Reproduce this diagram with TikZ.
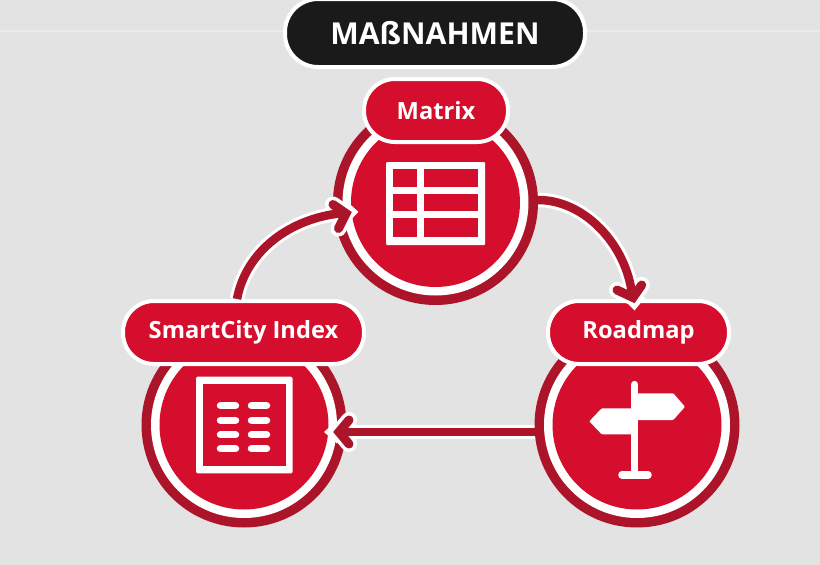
\documentclass[tikz,border=0pt]{standalone}
\usepackage{fontspec}
\setmainfont{Open Sans}
\definecolor{bgc}{HTML}{E3E3E3}
\definecolor{linec}{HTML}{EBEBEB}
\definecolor{redc}{HTML}{D40E2C}
\definecolor{darkc}{HTML}{AC1529}
\definecolor{blackc}{HTML}{1A1A1A}
\tikzset{
  x=1pt,y=-1pt,
  ringnode/.style={circle,minimum size=205pt,inner sep=0pt,fill=darkc,draw=none},
  discA/.style={circle,fill=white,minimum size=186pt,inner sep=0pt},
  discB/.style={circle,fill=redc,minimum size=169pt,inner sep=0pt},
  pill/.style={rounded corners=31pt,fill=redc,draw=white,line width=4pt,text=white,font=\bfseries\fontsize{23.7}{26}\selectfont,inner sep=0pt,minimum height=63pt},
  headpill/.style={rounded corners=33pt,fill=blackc,draw=white,line width=4pt,text=white,font=\bfseries\fontsize{30.2}{32}\selectfont,inner sep=0pt,minimum height=68pt,minimum width=300pt},
  casing/.style={draw=white,line width=14.5pt},
  flow/.style={draw=darkc,line width=8.5pt},
  headcase/.style={draw=white,line width=16pt,line cap=round,line join=miter},
  headflow/.style={draw=darkc,line width=9pt,line cap=round,line join=miter},
  iconw/.style={fill=white,draw=none},
  iconr/.style={fill=redc,draw=none},
  bar/.style={draw=white,line width=7.5pt,line cap=round},
}
\begin{document}
\begin{tikzpicture}
\useasboundingbox (0,0) rectangle (820,565);
\fill[bgc] (0,0) rectangle (820,565);
\draw[linec,line width=1.5pt] (0,31) -- (820,31);

\coordinate (a1s) at (237,299);
\coordinate (a1e) at (343,213);
\coordinate (a1t) at (346,213.5);
\coordinate (a1u) at (333,204.5);
\coordinate (a1d) at (338.5,228.5);
\coordinate (a2s) at (538,200);
\coordinate (a2e) at (632,294);
\coordinate (a2t) at (633,297.5);
\coordinate (a2u) at (617,290);
\coordinate (a2d) at (641.7,285);
\coordinate (a3s) at (536,432);
\coordinate (a3e) at (342,432);
\coordinate (a3t) at (339,432);
\coordinate (a3u) at (349,420);
\coordinate (a3d) at (349,444);

% connector casings under discs
\path[casing] (a1s) .. controls (246,251) and (290,218) .. (a1e);
\path[casing] (a2s) .. controls (585,200) and (626,245) .. (a2e);
\path[casing] (a3s) -- (a3e);

% discs
\node[ringnode] (mo) at (435.5,202.5) {};
\node[discA] (mw) at (435.5,202.5) {};
\node[discB] (mr) at (435.5,202.5) {};
\node[ringnode] (so) at (244,425) {};
\node[discA] (sw) at (244,425) {};
\node[discB] (sr) at (244,425) {};
\node[ringnode] (ro) at (637,425) {};
\node[discA] (rw) at (637,425) {};
\node[discB] (rr) at (637,425) {};

% pills
\node[headpill] (head) at (435,33) {MAßNAHMEN};
\node[pill,minimum width=144pt] (matrix) at (436,110.5) {Matrix};
\node[pill,minimum width=241pt] (index) at (243.5,332.5) {SmartCity Index};
\node[pill,minimum width=181pt] (roadmap) at (638.5,332.5) {Roadmap};

% connectors
\path[headcase] (a1u) -- (a1t) -- (a1d);
\path[headcase] (a2u) -- (a2t) -- (a2d);
\path[headcase] (a3u) -- (a3t) -- (a3d);
\fill[white] (358.5,212) -- (346,200.5) -- (345,225) -- cycle;
\fill[white] (634.5,310.5) -- (622.5,298) -- (645.5,297) -- cycle;
\fill[white] (324,432) -- (337,420.5) -- (337,443.5) -- cycle;
\path[flow] (a1s) .. controls (246,251) and (290,218) .. (a1e);
\path[flow] (a2s) .. controls (585,200) and (626,245) .. (a2e);
\path[flow] (a3s) -- (a3e);
\path[headflow] (a1u) -- (a1t) -- (a1d);
\path[headflow] (a2u) -- (a2t) -- (a2d);
\path[headflow] (a3u) -- (a3t) -- (a3d);

% table icon
\fill[iconw,rounded corners=1pt] (386,162) rectangle (485,245);
\fill[iconr] (393.3,169.3) rectangle (416.7,186.7);
\fill[iconr] (424,169.3) rectangle (478,186.7);
\fill[iconr] (393.3,194) rectangle (416.7,210.7);
\fill[iconr] (424,194) rectangle (478,210.7);
\fill[iconr] (393.3,218.3) rectangle (416.7,237.3);
\fill[iconr] (424,218.3) rectangle (478,237.3);

% index icon
\fill[iconw,rounded corners=1.5pt] (196,376.7) rectangle (292.7,473.3);
\fill[iconr] (203.3,383.7) rectangle (285.7,466);
\foreach \yy in {405.7,420.3,434.7,448.7}{
  \draw[bar] (220.5,\yy) -- (235.5,\yy);
  \draw[bar] (251.5,\yy) -- (266.5,\yy);
}

% signpost icon
\fill[iconw,rounded corners=1pt] (634,393.3) -- (673.3,393.3) -- (685,406.7) -- (673.3,420) -- (634,420) -- cycle;
\fill[iconw,rounded corners=1pt] (636,408.3) -- (601.7,408.3) -- (589.3,421.3) -- (601.7,434.3) -- (636,434.3) -- cycle;
\draw[white,line width=7.3pt,line cap=round] (634.7,384.5) -- (634.7,473);
\draw[white,line width=7.6pt,line cap=round] (622,474.8) -- (648,474.8);
\end{tikzpicture}
\end{document}
